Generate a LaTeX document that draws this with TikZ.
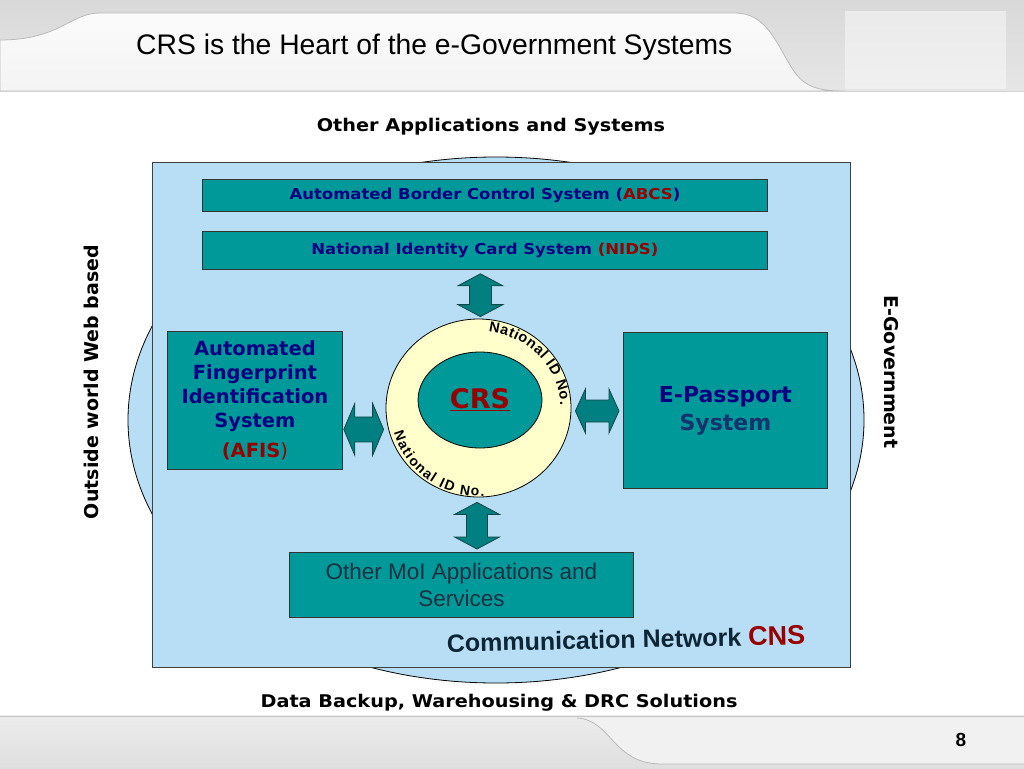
\documentclass[tikz,border=0pt]{standalone}
\usepackage{fontspec}
\setmainfont{Liberation Sans}
\newfontfamily\verd{DejaVu Sans}
\newfontfamily\verdw{DejaVu Sans}[FakeStretch=1.1]
\usetikzlibrary{shapes.geometric,calc,decorations.text}
\definecolor{lblue}{RGB}{184,222,245}
\definecolor{teal1}{RGB}{0,153,153}
\definecolor{navy1}{RGB}{0,0,128}
\definecolor{dred}{RGB}{153,0,0}
\definecolor{cream}{RGB}{255,255,204}
\definecolor{arrowfill}{RGB}{0,128,128}
\definecolor{arrowline}{RGB}{20,70,70}
\definecolor{slate}{RGB}{27,48,64}
\definecolor{sysblue}{RGB}{20,50,110}
\definecolor{cnsdark}{RGB}{13,37,53}
\newcommand\fsz[2]{\fontsize{#1}{#2}\selectfont}
% horizontal double block arrow: #1 left tip, #2 right tip, #3 head length, #4 head half width, #5 shaft half width
\newcommand\hdbl[5]{\draw[barrow] let \p1=#1, \p2=#2 in
  (\x1,\y1) -- (\x1+#3,\y1+#4) -- (\x1+#3,\y1+#5) -- (\x2-#3,\y1+#5) -- (\x2-#3,\y1+#4) -- (\x2,\y1)
  -- (\x2-#3,\y1-#4) -- (\x2-#3,\y1-#5) -- (\x1+#3,\y1-#5) -- (\x1+#3,\y1-#4) -- cycle;}
% vertical double block arrow: #1 top tip, #2 bottom tip
\newcommand\vdbl[5]{\draw[barrow] let \p1=#1, \p2=#2 in
  (\x1,\y1) -- (\x1+#4,\y1-#3) -- (\x1+#5,\y1-#3) -- (\x1+#5,\y2+#3) -- (\x1+#4,\y2+#3) -- (\x1,\y2)
  -- (\x1-#4,\y2+#3) -- (\x1-#5,\y2+#3) -- (\x1-#5,\y1-#3) -- (\x1-#4,\y1-#3) -- cycle;}
\tikzset{
  tbox/.style={draw=black!80, fill=teal1, line width=0.8pt, inner sep=0pt},
  barrow/.style={draw=arrowline, fill=arrowfill, line width=0.8pt},
  headline/.style={font=\verdw\bfseries\fsz{17.5}{20}, text=black},
}
\begin{document}
\begin{tikzpicture}[x=1pt,y=-1pt]
\useasboundingbox (0,0) rectangle (1024,768);
\fill[white] (0,0) rectangle (1024,768);
% header
\shade[top color=gray!30, bottom color=gray!20] (0,0) rectangle (1024,91);
\shade[top color=gray!16, bottom color=gray!12] (845,12) rectangle (1006,88);
\shade[top color=gray!3, bottom color=gray!9, draw=gray!55, line width=0.8pt]
  (0,40) .. controls (60,40) and (70,13) .. (100,13) -- (735,13)
  .. controls (765,13) and (775,40) .. (790,65) .. controls (802,86) and (815,91) .. (845,91) -- (0,91) -- cycle;
\draw[gray!35, line width=1pt] (0,91.5) -- (1024,91.5);
\node[font=\fsz{28.3}{34}, anchor=west, inner sep=0pt] (title) at (136,47) {CRS is the Heart of the e-Government Systems};
% footer
\shade[top color=gray!15, middle color=gray!42, bottom color=gray!25] (0,715) rectangle (1024,768);
\fill[gray!11] (577,718) .. controls (612,720) and (612,764) .. (662,764) -- (1024,764) -- (1024,718) -- cycle;
\draw[gray!55, line width=0.8pt] (577,718) .. controls (612,720) and (612,764) .. (662,764) -- (1024,764);
\draw[gray!45, line width=1pt] (0,716) -- (1024,716);
\node[font=\bfseries\fsz{19}{19}] (page) at (961,740) {8};
% network
\node[ellipse, draw=black, fill=lblue, line width=0.8pt, minimum width=736, minimum height=526] (outer) at (496,420) {};
\node[draw=black!75, fill=lblue, line width=0.8pt, minimum width=698, minimum height=505, anchor=north west] (net) at (152,162) {};
\node[headline] (other) at (491,127) {Other Applications and Systems};
\node[headline] (data) at (499,703) {Data Backup, Warehousing \& DRC Solutions};
\node[font=\verd\bfseries\fsz{19}{20}, rotate=90] (outside) at (91,382) {Outside world Web based};
\node[font=\verd\bfseries\fsz{19}{20}, rotate=-90] (egov) at (891,372) {E-Government};
% boxes
\node[tbox, minimum width=565, minimum height=32, anchor=north west, font=\verdw\bfseries\fsz{15}{18}, text=navy1] (abcs) at (202,179) {Automated Border Control System (\textcolor{dred}{ABCS})};
\node[tbox, minimum width=565, minimum height=38, anchor=north west, font=\verdw\bfseries\fsz{15}{18}, text=navy1] (nids) at (202,231) {National Identity Card System \textcolor{dred}{(NIDS)}};
\node[tbox, minimum width=175, minimum height=138, anchor=north west, align=center, font=\verd\bfseries\fsz{19.5}{24}, text=navy1] (afis) at (167,331) {Automated\\Fingerprint\\Identification\\System\\[6pt]\textcolor{dred}{(AFIS{\mdseries)}}};
\node[tbox, minimum width=204, minimum height=156, anchor=north west, align=center, font=\verd\bfseries\fsz{22}{28}, text=navy1] (epass) at (623,332) {E-Passport\\\textcolor{sysblue}{System}};
\node[tbox, minimum width=344, minimum height=65, anchor=north west, align=center, font=\fsz{22.5}{27}, text=slate] (moi) at (289,552) {Other MoI Applications and\\Services};
\node[font=\bfseries\fsz{25}{25}, text=cnsdark, rotate=1.2] (cns) at (626,639) {Communication Network \textcolor{dred}{\fsz{27}{27}CNS}};
% CRS core
\node[ellipse, draw=black, fill=cream, line width=0.8pt, minimum width=185, minimum height=178] (ring) at (478.5,408) {};
\node[ellipse, draw=black, fill=teal1, line width=0.8pt, minimum width=124, minimum height=96, font=\verd\bfseries\fsz{27}{27}, text=dred] (crs) at (480,400) {\underline{CRS}};
\path[decorate, decoration={text along path, text align={fit to path}, text={|\bfseries\fsz{14.5}{15}|National ID No.}}]
  ($(ring.center)+(83:82pt and 77pt)$) arc[start angle=83, end angle=2, x radius=82pt, y radius=77pt];
\path[decorate, decoration={text along path, text align={fit to path}, text={|\bfseries\fsz{14}{15}|National ID No.}}]
  ($(ring.center)+(196:88pt)$) arc[start angle=196, end angle=274, radius=88pt];
% block arrows
\vdbl{($(nids.south)+(-4.5,4)$)}{($(ring.north)+(1.5,-2)$)}{12pt}{22.5pt}{11pt}
\vdbl{($(ring.south)+(-1.5,5)$)}{($(moi.north)+(16,-3)$)}{12pt}{22.5pt}{10.5pt}
\hdbl{($(afis.east)+(1,29)$)}{($(ring.west)+(-2,21)$)}{11pt}{26pt}{12.5pt}
\hdbl{($(ring.east)+(4,3)$)}{($(epass.west)+(-4,1)$)}{10pt}{22pt}{11pt}
\end{tikzpicture}
\end{document}
